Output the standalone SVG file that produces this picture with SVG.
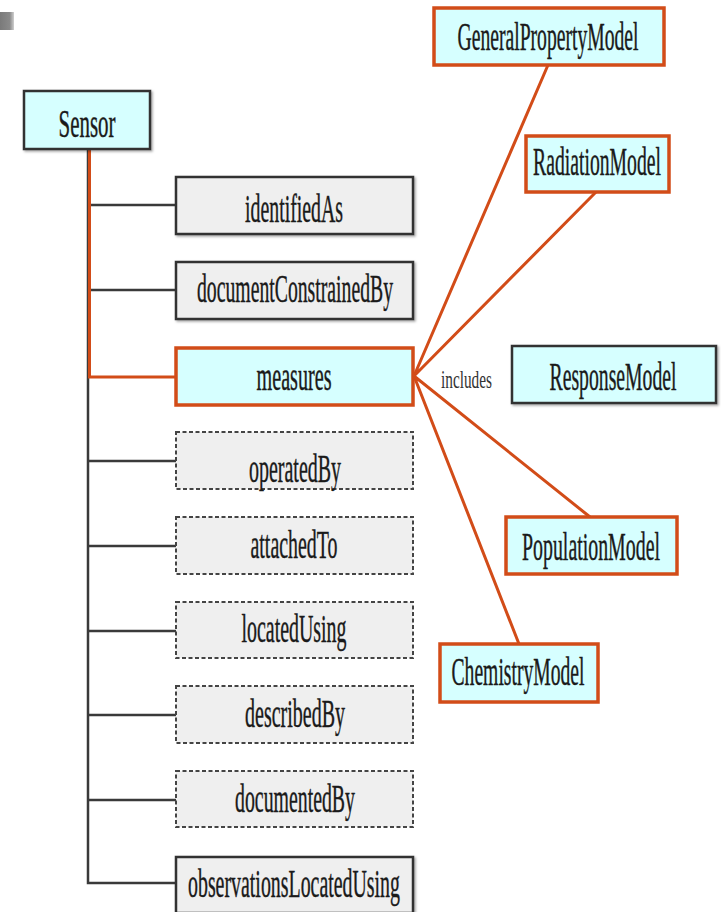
<svg xmlns="http://www.w3.org/2000/svg" width="721" height="912" viewBox="0 0 721 912">
<defs>
<linearGradient id="gbar" x1="0" y1="0" x2="1" y2="0">
<stop offset="0" stop-color="#7a7a7a"/><stop offset="0.7" stop-color="#8a8a8a"/><stop offset="1" stop-color="#cfcfcf"/>
</linearGradient>
<filter id="sh" x="-5%" y="-5%" width="115%" height="125%">
<feDropShadow dx="1.5" dy="1.5" stdDeviation="0.8" flood-color="#000" flood-opacity="0.35"/>
</filter>
</defs>
<style>
.t{font-family:"Liberation Serif","Times New Roman",serif;font-size:23px;fill:#1a1a1a;stroke:#1a1a1a;stroke-width:0.25;text-anchor:middle}
.s{font-family:"Liberation Serif","Times New Roman",serif;font-size:15px;fill:#333;text-anchor:start}
.cy{fill:#d6ffff;stroke:#333;stroke-width:2.5;filter:url(#sh)}
.cyo{fill:#d6ffff;stroke:#d24c18;stroke-width:3.5}
.gr{fill:#efefef;stroke:#333;stroke-width:2.5;filter:url(#sh)}
.gd{fill:#efefef;stroke:#444;stroke-width:2;stroke-dasharray:4 2.5}
.dk{stroke:#3a3a3a;stroke-width:2.5;fill:none}
.or{stroke:#d24c18;stroke-width:3;fill:none}
</style>
<rect x="0" y="12" width="14" height="18" fill="url(#gbar)"/>
<g id="connectors">
<path class="dk" d="M88 149 V883 H176"/>
<path class="dk" d="M88 205 H176 M88 290 H176 M88 461 H176 M88 546 H176 M88 631 H176 M88 715 H176 M88 800 H176"/>
<path class="or" d="M89.5 149 V377 H176"/>
<path class="or" d="M414 376 L548 65 M414 376 L596 192 M414 376 L590 517 M414 376 L519 644"/>
<text class="s" transform="translate(441 388) scale(1 1.7)" textLength="51" lengthAdjust="spacingAndGlyphs">includes</text>
</g>
<g id="sensor"><rect class="cy" x="24" y="91" width="126" height="58"/><text class="t" transform="translate(87 137) scale(1 1.75)" textLength="57" lengthAdjust="spacingAndGlyphs">Sensor</text></g>
<g id="identifiedAs"><rect class="gr" x="176" y="177" width="237" height="57"/><text class="t" transform="translate(294 222) scale(1 1.75)" textLength="98" lengthAdjust="spacingAndGlyphs">identifiedAs</text></g>
<g id="documentConstrainedBy"><rect class="gr" x="176" y="262" width="237" height="57"/><text class="t" transform="translate(295 302) scale(1 1.75)" textLength="196" lengthAdjust="spacingAndGlyphs">documentConstrainedBy</text></g>
<g id="measures"><rect class="cyo" x="176" y="348" width="237" height="57"/><text class="t" transform="translate(294 390) scale(1 1.75)" textLength="75" lengthAdjust="spacingAndGlyphs">measures</text></g>
<g id="operatedBy"><rect class="gd" x="176" y="432" width="237" height="57"/><text class="t" transform="translate(295 482) scale(1 1.75)" textLength="92" lengthAdjust="spacingAndGlyphs">operatedBy</text></g>
<g id="attachedTo"><rect class="gd" x="176" y="517" width="237" height="57"/><text class="t" transform="translate(294 558) scale(1 1.75)" textLength="87" lengthAdjust="spacingAndGlyphs">attachedTo</text></g>
<g id="locatedUsing"><rect class="gd" x="176" y="602" width="237" height="56"/><text class="t" transform="translate(294 642) scale(1 1.75)" textLength="105" lengthAdjust="spacingAndGlyphs">locatedUsing</text></g>
<g id="describedBy"><rect class="gd" x="176" y="686" width="237" height="57"/><text class="t" transform="translate(295 727) scale(1 1.75)" textLength="100" lengthAdjust="spacingAndGlyphs">describedBy</text></g>
<g id="documentedBy"><rect class="gd" x="176" y="771" width="237" height="56"/><text class="t" transform="translate(295 812) scale(1 1.75)" textLength="120" lengthAdjust="spacingAndGlyphs">documentedBy</text></g>
<g id="observationsLocatedUsing"><rect class="gr" x="176" y="857" width="237" height="56"/><text class="t" transform="translate(294 897) scale(1 1.75)" textLength="212" lengthAdjust="spacingAndGlyphs">observationsLocatedUsing</text></g>
<g id="GeneralPropertyModel"><rect class="cyo" x="434" y="8" width="230" height="57"/><text class="t" transform="translate(548 50) scale(1 1.75)" textLength="181" lengthAdjust="spacingAndGlyphs">GeneralPropertyModel</text></g>
<g id="RadiationModel"><rect class="cyo" x="526" y="136" width="143" height="56"/><text class="t" transform="translate(597 175) scale(1 1.75)" textLength="128" lengthAdjust="spacingAndGlyphs">RadiationModel</text></g>
<g id="ResponseModel"><rect class="cy" x="512" y="346" width="204" height="57"/><text class="t" transform="translate(613 390) scale(1 1.75)" textLength="127" lengthAdjust="spacingAndGlyphs">ResponseModel</text></g>
<g id="PopulationModel"><rect class="cyo" x="506" y="517" width="171" height="57"/><text class="t" transform="translate(591 560) scale(1 1.75)" textLength="138" lengthAdjust="spacingAndGlyphs">PopulationModel</text></g>
<g id="ChemistryModel"><rect class="cyo" x="440" y="644" width="158" height="58"/><text class="t" transform="translate(518 685) scale(1 1.75)" textLength="133" lengthAdjust="spacingAndGlyphs">ChemistryModel</text></g>
</svg>
